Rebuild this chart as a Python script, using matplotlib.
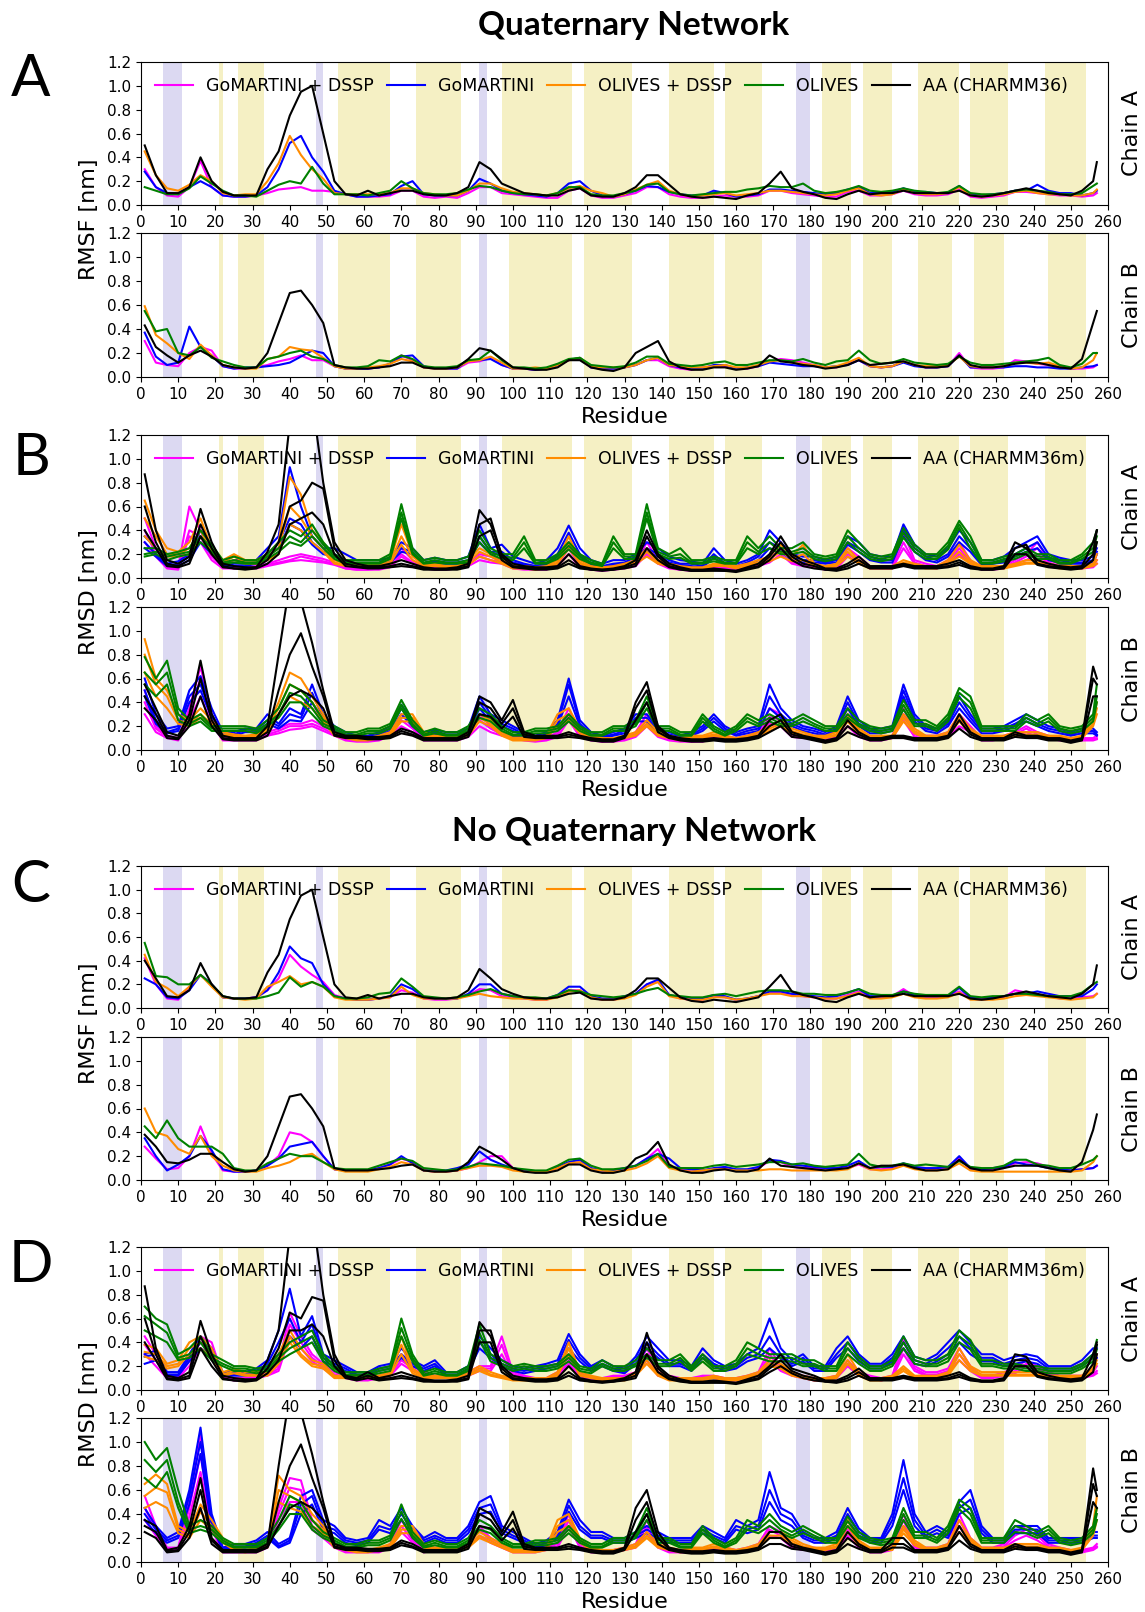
import numpy as np
import matplotlib.pyplot as plt

# residues: every third residue plus the last one
residues = list(range(1, 257, 3)) + [257]

labels = ['GoMARTINI + DSSP', 'GoMARTINI', 'OLIVES + DSSP', 'OLIVES']
colors = ['magenta', 'blue', 'darkorange', 'green', 'black']

# shaded secondary structure ranges (residue numbers)
purple_spans = [(6, 11), (47, 49), (91, 93), (176, 180)]
yellow_spans_A = [(21, 22), (26, 33), (53, 67), (74, 86), (97, 116), (119, 132), (142, 154),
                  (157, 167), (183, 191), (194, 202), (209, 220), (223, 233), (243, 254)]
yellow_spans_B = [(21, 22), (26, 33), (53, 67), (74, 86), (99, 116), (119, 132), (142, 154),
                  (157, 167), (183, 191), (194, 202), (209, 218), (224, 232), (244, 254)]

# ---- all values below in 0.01 nm ----
# Quaternary network, RMSF, chain A
q_rmsf_A_gd = [30,15,8,7,15,37,15,8,7,7,8,10,13,14,15,12,12,11,9,7,7,7,8,12,12,7,6,7,6,
               10,15,15,10,9,8,7,6,6,12,14,8,6,6,8,10,15,15,9,7,6,6,7,8,7,7,8,12,12,
               10,9,8,7,7,11,12,8,8,9,12,9,8,8,9,13,7,6,7,8,11,11,10,9,8,8,7,8,10]
q_rmsf_A_go = [28,15,10,9,15,20,15,8,7,7,8,15,30,52,58,40,28,12,9,7,7,8,9,16,20,9,8,8,8,
               12,22,18,12,10,9,8,7,10,18,20,12,8,7,9,12,16,15,11,9,8,8,12,10,7,8,9,13,13,
               12,11,10,9,10,13,15,10,10,11,14,11,11,10,10,16,9,8,9,10,12,12,17,12,10,10,8,10,12]
q_rmsf_A_od = [45,25,14,12,17,25,20,10,8,9,9,20,35,58,42,30,22,10,9,9,9,9,10,14,14,10,9,8,8,
               12,18,18,14,11,10,9,8,10,14,16,12,10,7,9,13,17,20,12,9,7,8,9,10,8,9,10,12,12,
               11,10,9,8,9,12,14,9,8,9,13,10,9,9,10,15,8,7,8,9,11,12,10,9,9,8,8,10,13]
q_rmsf_A_ol = [15,12,9,9,14,24,18,12,8,8,7,12,17,20,18,32,18,9,9,9,8,10,12,20,14,10,9,9,10,
               13,16,15,12,10,9,9,8,10,15,15,9,8,8,10,12,17,18,11,9,8,9,10,11,11,13,14,16,15,
               15,18,12,10,11,13,16,12,11,12,14,12,11,10,11,16,10,9,9,10,12,13,12,11,9,9,10,16,18]
q_rmsf_A_aa = [50,25,10,10,15,40,20,11,8,8,8,30,45,75,95,100,60,20,9,8,12,8,10,12,12,9,8,8,10,
               15,36,30,18,14,10,9,8,8,12,14,8,7,7,10,15,25,25,17,9,7,6,7,6,5,8,10,18,28,
               14,11,9,6,5,9,12,9,10,10,12,10,10,10,10,12,8,7,8,10,12,14,12,10,9,8,12,20,36]

# Quaternary network, RMSF, chain B
q_rmsf_B_gd = [30,12,10,9,20,25,22,9,7,7,8,10,13,15,18,14,14,9,7,7,7,8,11,18,14,8,7,7,7,
               12,13,16,10,7,7,6,7,10,14,15,8,7,7,8,10,14,14,9,7,6,8,9,9,7,7,9,13,15,
               14,12,10,8,8,11,14,9,8,9,13,10,8,8,9,20,8,7,7,8,14,13,11,10,8,7,7,8,10]
q_rmsf_B_go = [37,17,10,12,42,25,18,9,7,8,8,9,10,12,17,22,20,9,7,7,7,8,11,17,18,9,7,7,7,
               14,14,15,10,7,7,6,7,10,14,16,8,7,7,8,10,14,16,10,8,7,7,10,10,7,8,9,12,11,
               10,9,9,8,9,10,14,9,8,9,12,9,8,8,9,18,8,8,8,8,9,9,8,8,7,7,8,9,10]
q_rmsf_B_od = [59,35,28,20,15,27,18,10,8,7,7,15,17,25,23,22,16,9,7,7,8,9,11,15,13,8,7,7,8,
               13,14,17,12,7,7,8,7,10,14,16,9,8,8,8,10,14,16,10,9,8,8,9,10,8,8,10,13,14,
               12,11,10,8,9,12,16,9,8,9,13,10,9,9,10,17,9,8,8,9,12,12,11,12,9,7,8,14,20]
q_rmsf_B_ol = [55,38,40,20,18,25,16,13,10,8,8,15,17,20,22,17,15,10,8,8,9,14,13,18,15,9,8,8,9,
               14,15,22,14,8,8,7,8,11,15,16,10,9,8,9,12,17,17,11,10,9,10,12,13,10,10,12,14,14,
               13,15,12,10,13,14,22,14,11,12,15,12,11,10,11,17,12,10,10,11,12,13,14,16,10,8,11,20,20]
q_rmsf_B_aa = [43,25,18,12,18,22,17,10,8,7,8,20,45,70,72,60,45,10,8,7,7,8,9,12,12,8,7,7,8,
               15,24,22,15,8,7,6,6,8,14,14,8,6,5,8,20,25,30,13,8,6,6,8,8,6,7,9,18,13,
               12,10,9,7,8,10,14,10,11,12,13,10,8,8,9,18,10,8,8,9,11,12,12,10,8,7,15,45,55]

# Quaternary network, RMSD (three replicas each), chain A
q_rmsd_A_gd = [[50,25,10,9,60,40,20,10,10,9,10,12,15,18,20,18,16,13,9,8,8,9,12,25,15,10,9,9,10,
                13,20,18,15,10,9,9,9,12,30,12,8,8,9,10,12,30,15,10,8,8,8,10,10,8,10,12,18,30,
                15,12,12,9,10,25,18,10,10,10,38,15,12,10,15,30,15,9,9,10,15,20,30,15,12,10,10,12,20],
               [40,20,9,8,40,35,18,9,9,8,9,11,13,15,18,16,14,12,8,7,7,8,10,20,13,9,8,8,9,
                12,18,15,13,9,8,8,8,11,25,10,7,7,8,9,11,25,13,9,7,7,7,9,9,7,9,11,15,25,
                13,11,10,8,9,20,15,9,9,9,30,13,10,9,13,25,13,8,8,9,13,18,25,13,10,9,9,10,15],
               [30,18,8,7,35,30,15,8,8,8,8,10,12,14,15,14,13,11,8,7,7,7,9,18,12,8,7,7,8,
                10,15,13,12,8,7,7,7,10,20,9,7,6,7,8,10,20,12,8,7,6,6,8,8,6,8,10,13,20,
                12,10,9,7,8,18,13,8,8,8,25,12,9,8,12,20,12,7,7,8,12,15,20,12,9,8,8,9,12]]
q_rmsd_A_go = [[35,25,12,14,20,40,25,12,15,15,15,25,35,93,60,35,25,25,20,15,15,15,17,30,25,15,17,15,15,
                18,45,25,28,18,15,12,15,25,44,25,15,12,15,15,20,30,25,18,15,14,12,25,15,12,15,20,40,30,
                20,18,18,15,18,35,30,20,18,18,45,28,20,18,25,40,30,15,15,18,25,30,35,20,17,15,15,18,25],
               [30,20,10,12,18,35,22,10,12,12,13,20,30,50,45,30,22,20,15,12,12,12,15,25,22,12,14,13,13,
                15,35,22,22,15,12,10,12,20,38,20,12,10,12,13,18,25,20,15,12,12,10,20,12,10,13,18,30,25,
                18,15,15,13,15,30,25,18,15,15,40,25,18,15,20,35,25,12,13,15,20,25,30,17,15,13,13,15,22],
               [25,18,10,10,15,30,20,10,10,10,12,18,25,45,40,28,20,18,14,11,11,11,13,22,20,11,12,12,12,
                13,30,20,20,13,11,10,11,18,30,18,11,9,11,12,15,22,18,13,11,10,9,17,11,9,11,15,25,22,
                15,13,13,12,13,28,22,15,13,13,35,22,15,13,18,30,22,11,12,13,18,22,25,15,13,12,12,13,20]]
q_rmsd_A_od = [[65,40,25,22,30,50,25,15,20,15,15,20,30,85,70,40,30,15,12,12,12,12,15,45,20,12,12,10,10,
                15,25,20,15,10,10,9,10,15,35,15,10,9,10,12,15,25,15,12,10,9,9,12,12,10,12,15,18,28,
                18,28,12,10,12,25,15,10,10,10,15,12,10,10,15,28,15,10,10,10,12,15,15,12,10,10,10,12,20],
               [50,35,20,20,25,40,22,13,18,13,13,18,25,60,50,35,25,13,11,11,11,11,13,35,18,11,11,9,9,
                13,22,18,13,9,9,8,9,13,30,13,9,8,9,11,13,22,13,11,9,8,8,11,11,9,11,13,16,22,
                16,20,11,9,11,22,13,9,9,9,13,11,9,9,13,22,13,9,9,9,11,13,13,11,9,9,9,11,15],
               [35,25,18,18,20,35,20,12,15,12,12,15,20,45,40,30,22,12,10,10,10,10,12,28,15,10,10,8,8,
                11,18,15,12,8,8,7,8,12,25,12,8,7,8,10,12,18,12,10,8,7,7,10,10,8,10,12,14,18,
                14,15,10,8,10,18,12,8,8,8,12,10,8,8,12,18,12,8,8,8,10,12,12,10,8,8,8,10,12]]
q_rmsd_A_ol = [[25,25,20,22,25,40,28,15,18,15,15,20,30,40,35,45,30,20,15,15,15,15,20,62,25,15,17,15,15,
                18,40,25,20,20,35,15,15,20,30,20,15,12,35,20,20,62,25,20,25,15,15,18,15,15,35,25,35,25,
                25,30,20,18,20,40,30,20,18,20,42,28,20,20,30,48,35,15,15,18,20,25,20,20,15,15,20,30,40],
               [20,22,18,20,22,35,25,13,15,13,13,18,25,35,30,40,28,18,13,13,13,13,18,55,22,13,15,13,13,
                15,35,22,18,17,30,13,13,18,27,18,13,11,30,18,18,55,22,18,20,13,13,16,13,13,30,22,30,22,
                22,25,18,16,18,35,25,18,16,18,38,25,18,18,27,45,30,13,13,16,18,22,18,18,13,13,18,25,35],
               [18,20,15,18,20,30,22,12,13,12,12,16,22,30,27,35,25,16,12,12,12,12,16,50,20,12,13,12,12,
                13,30,20,16,15,25,12,12,16,24,16,12,10,25,16,16,50,20,16,17,12,12,14,12,12,25,20,25,20,
                20,22,16,14,16,30,22,16,14,16,34,22,16,16,24,42,25,12,12,14,16,20,16,16,12,12,16,22,30]]
q_rmsd_A_aa = [[87,40,15,12,18,58,30,12,10,9,9,22,45,130,150,150,80,30,15,12,10,10,12,15,12,9,8,8,9,
                12,57,45,20,12,10,9,9,10,20,10,8,7,8,10,15,40,20,12,9,7,7,8,7,6,9,12,20,35,
                20,15,12,8,8,12,18,10,10,10,12,10,10,10,12,15,10,8,8,10,30,25,15,12,10,9,10,30,40],
               [60,30,12,10,15,45,25,10,8,8,9,15,30,60,65,80,75,25,12,10,9,9,10,12,10,8,7,7,8,
                10,45,50,18,10,9,8,8,9,15,9,7,7,7,9,12,35,18,10,8,6,6,7,6,6,8,10,18,30,
                18,12,10,7,7,10,15,9,9,9,11,9,9,9,10,13,9,7,7,9,25,28,12,10,9,8,9,20,40],
               [40,25,10,9,12,35,20,9,8,7,8,12,20,45,50,55,45,20,10,9,8,8,9,10,9,7,7,7,7,
                9,35,40,15,9,8,7,7,8,12,8,7,6,7,8,10,25,15,9,7,6,6,6,6,5,7,9,15,25,
                15,10,8,7,6,8,12,8,8,8,10,8,8,8,9,11,8,7,7,8,20,20,11,9,8,7,8,15,30]]

# Quaternary network, RMSD, chain B
q_rmsd_B_gd = [[50,20,12,10,35,70,30,10,10,10,10,15,18,22,22,25,20,15,10,9,9,10,15,30,20,10,10,10,10,
                15,30,20,15,12,10,9,10,15,35,15,10,8,9,10,15,30,15,10,9,8,9,12,12,10,12,15,35,30,
                15,12,12,10,12,30,15,10,10,12,35,15,12,12,15,30,20,10,10,12,15,20,15,12,10,10,10,10,12],
               [40,18,11,9,30,60,25,9,9,9,9,13,16,20,20,22,18,13,9,8,8,9,13,25,18,9,9,9,9,
                13,25,18,13,11,9,8,9,13,30,13,9,7,8,9,13,25,13,9,8,7,8,11,11,9,11,13,28,25,
                13,11,11,9,11,25,13,9,9,11,30,13,11,11,13,25,18,9,9,11,13,18,13,11,9,9,9,9,10],
               [30,15,10,8,25,45,22,8,8,8,8,12,14,17,18,20,16,12,8,7,7,8,12,20,15,8,8,8,8,
                11,20,15,12,10,8,7,8,11,25,11,8,7,7,8,11,20,11,8,7,7,7,10,10,8,10,11,22,20,
                11,10,10,8,10,20,11,8,8,10,25,11,10,10,11,20,15,8,8,10,11,15,11,10,8,8,8,8,9]]
q_rmsd_B_go = [[60,30,18,20,50,62,35,15,15,18,18,30,22,35,30,55,30,20,15,12,12,15,20,38,25,15,17,15,15,
                18,45,30,25,20,15,12,15,25,60,25,15,12,15,18,30,30,18,15,12,15,20,30,20,15,18,20,55,35,
                25,20,18,15,20,45,25,18,18,20,55,30,20,18,25,45,30,18,18,20,25,30,25,20,18,15,18,18,15],
               [50,25,15,18,45,55,30,13,13,17,17,25,20,30,27,48,27,18,13,11,11,13,18,35,22,13,15,13,13,
                16,40,27,22,18,13,11,13,22,55,22,13,11,13,16,27,27,16,13,11,13,18,27,18,13,16,18,45,30,
                22,18,16,13,18,40,22,16,16,18,50,27,18,16,22,40,27,16,16,18,22,27,22,18,16,13,16,16,13],
               [45,22,14,16,40,50,27,12,12,15,15,22,18,25,24,40,24,16,12,10,10,12,16,30,20,12,13,12,12,
                14,35,24,20,16,12,10,12,20,45,20,12,10,12,14,24,24,14,12,10,12,16,24,16,12,14,16,35,27,
                20,16,14,12,16,35,20,14,14,16,45,24,16,14,20,35,24,14,14,16,20,24,20,16,14,12,14,14,12]]
q_rmsd_B_od = [[93,60,50,30,25,35,25,15,13,12,13,20,40,65,60,45,30,15,12,10,10,12,15,30,30,15,12,12,12,
                15,30,25,15,10,10,10,12,30,35,18,12,10,10,12,15,25,15,12,10,12,12,15,12,10,12,15,20,25,
                18,15,12,12,15,30,18,12,12,12,30,18,12,12,15,30,18,12,12,12,15,15,15,12,12,10,12,25,40],
               [80,55,45,25,22,30,22,13,12,11,12,18,35,55,50,40,27,13,11,9,9,11,13,27,27,13,11,11,11,
                13,27,22,13,9,9,9,11,25,30,16,11,9,9,11,13,22,13,11,9,11,11,13,11,9,11,13,18,22,
                16,13,11,11,13,27,16,11,11,11,27,16,11,11,13,27,16,11,11,11,13,13,13,11,11,9,11,22,35],
               [65,45,35,22,20,27,20,12,11,10,11,16,30,45,40,35,24,12,10,8,8,10,12,24,24,12,10,10,10,
                12,24,20,12,8,8,8,10,20,25,14,10,8,8,10,12,20,12,10,8,10,10,12,10,8,10,12,16,20,
                14,12,10,10,12,24,14,10,10,10,24,14,10,10,12,24,14,10,10,10,12,12,12,10,10,8,10,20,30]]
q_rmsd_B_ol = [[78,60,75,35,25,30,20,20,20,20,18,25,35,55,50,40,25,20,15,15,18,18,22,42,25,15,18,15,15,
                20,35,30,20,15,15,18,18,20,30,20,15,15,20,20,25,45,20,20,15,15,30,20,15,20,30,25,30,25,
                25,30,25,20,20,35,25,20,18,20,42,25,25,20,30,52,45,20,20,20,20,30,25,30,20,18,20,30,55],
               [65,55,65,30,22,27,18,18,18,18,16,22,30,48,45,35,22,18,13,13,16,16,20,38,22,13,16,13,13,
                18,30,27,18,13,13,16,16,18,27,18,13,13,18,18,22,40,18,18,13,13,27,18,13,18,27,22,27,22,
                22,27,22,18,18,30,22,18,16,18,38,22,22,18,27,48,40,18,18,18,18,27,22,27,18,16,18,27,45],
               [55,45,55,25,20,24,16,16,16,16,14,20,27,40,40,30,20,16,12,12,14,14,18,35,20,12,14,12,12,
                16,27,24,16,12,12,14,14,16,24,16,12,12,16,16,20,35,16,16,12,12,24,16,12,16,24,20,24,20,
                20,24,20,16,16,27,20,16,14,16,34,20,20,16,24,44,35,16,16,16,16,24,20,24,16,14,16,24,40]]
q_rmsd_B_aa = [[55,35,15,12,30,75,30,12,10,10,10,20,80,140,125,90,50,15,12,12,11,11,12,18,15,10,10,10,10,
                15,45,40,25,42,15,12,12,12,15,12,10,9,9,12,40,57,20,12,10,9,9,10,9,9,10,12,25,30,
                15,12,10,8,10,25,15,10,10,12,12,10,10,10,12,30,15,10,10,10,15,12,12,10,10,8,10,70,60],
               [45,30,12,10,25,60,25,10,9,9,9,15,50,80,98,70,45,13,11,11,10,10,11,16,13,9,9,9,9,
                13,40,35,22,35,13,11,11,11,13,11,9,8,8,11,35,50,18,11,9,8,8,9,8,8,9,11,20,25,
                13,11,9,7,9,20,13,9,9,11,11,9,9,9,11,25,13,9,9,9,13,11,11,9,9,7,9,60,55],
               [35,25,10,9,20,45,20,9,8,8,8,12,30,45,50,45,35,12,10,10,9,9,10,14,12,8,8,8,8,
                11,30,28,18,28,11,10,10,10,11,10,8,7,7,10,25,40,15,10,8,7,7,8,7,7,8,10,15,20,
                11,10,8,6,8,15,11,8,8,10,10,8,8,8,10,18,11,8,8,8,11,10,10,8,8,6,8,45,45]]

# No quaternary network, RMSF, chain A
n_rmsf_A_gd = [42,20,8,7,18,28,20,9,8,8,9,15,25,45,35,28,22,11,8,7,7,8,9,15,13,8,7,7,8,
               11,16,15,10,9,8,7,7,10,15,15,9,7,7,9,12,20,22,11,8,7,7,10,9,7,8,10,13,13,
               11,10,9,8,8,11,14,9,9,10,16,10,9,9,10,14,8,7,8,9,15,13,11,10,8,8,9,10,12]
n_rmsf_A_go = [25,20,9,8,15,28,20,9,8,8,9,15,30,52,42,38,20,10,8,7,7,8,10,20,16,9,8,8,8,
               12,20,20,12,10,9,8,8,11,18,18,10,8,8,10,12,20,24,11,9,8,8,11,10,7,8,10,14,14,
               12,11,10,9,10,13,16,10,10,10,14,11,10,10,10,17,9,8,9,10,12,12,14,12,10,10,10,16,20]
n_rmsf_A_od = [45,22,17,10,18,28,18,9,8,7,8,18,22,27,20,22,18,9,7,7,7,8,9,18,11,8,8,8,8,
               10,12,10,9,8,8,7,7,9,14,15,9,7,7,8,11,18,22,10,8,7,7,9,9,7,8,10,12,12,
               10,10,9,8,8,10,13,8,8,9,12,9,8,8,9,13,7,7,7,8,10,11,10,9,8,7,8,9,12]
n_rmsf_A_ol = [55,27,26,20,20,28,20,10,8,8,8,10,13,26,18,22,18,10,8,8,9,12,13,25,18,10,9,8,9,
               11,14,16,12,10,9,9,8,11,15,14,11,10,9,10,12,15,17,11,10,9,9,11,12,10,12,14,15,15,
               14,12,12,11,11,13,16,12,11,11,14,12,11,11,11,18,10,9,10,10,12,12,11,10,10,10,13,20,22]
n_rmsf_A_aa = [40,25,10,9,15,38,20,10,8,8,9,30,45,75,95,100,60,20,9,8,11,8,10,12,12,9,8,8,9,
               15,33,25,16,12,9,8,8,9,12,13,8,7,7,9,15,25,25,17,9,6,5,7,6,5,7,9,18,28,
               14,11,9,6,5,9,12,9,10,10,12,10,10,10,10,12,8,7,8,10,12,14,12,10,9,8,12,20,36]

# No quaternary network, RMSF, chain B
n_rmsf_B_gd = [28,18,9,10,20,45,22,8,7,7,8,12,20,40,38,32,20,9,8,8,8,10,13,18,15,8,7,7,8,
               10,15,20,20,10,8,7,7,10,14,15,9,8,7,9,12,18,26,11,9,7,8,9,10,8,8,10,16,15,
               11,10,10,9,9,10,13,9,9,10,13,10,9,9,10,18,9,8,9,10,14,15,14,11,9,8,9,10,12]
n_rmsf_B_go = [35,20,8,13,20,37,25,9,7,7,8,12,18,28,30,32,20,9,8,8,8,10,13,20,14,8,8,8,10,
               13,24,17,13,10,8,7,7,11,15,17,10,8,8,10,12,18,22,18,10,9,8,10,11,9,9,11,17,16,
               13,12,11,10,10,12,16,10,11,11,14,11,10,10,11,20,10,9,10,11,15,13,12,10,9,8,9,10,12]
n_rmsf_B_od = [60,40,37,26,22,37,20,12,8,7,7,10,12,15,20,22,15,9,7,7,7,9,11,15,13,8,7,7,8,
               10,12,12,11,8,7,7,7,10,14,15,9,8,7,8,10,14,20,10,8,7,8,9,9,8,8,8,9,9,
               8,8,8,8,8,9,14,9,8,9,12,9,8,8,9,14,8,7,7,7,7,7,7,7,7,7,8,15,20]
n_rmsf_B_ol = [45,35,50,35,28,28,28,22,10,8,8,14,18,22,20,20,15,10,9,9,9,12,15,18,16,10,9,8,9,
               11,14,13,12,10,9,8,8,12,17,18,12,9,9,10,12,16,22,11,10,10,10,12,13,11,12,13,15,15,
               13,14,12,11,12,13,22,13,11,12,14,12,13,12,11,16,11,10,10,12,17,17,13,12,10,10,13,17,20]
n_rmsf_B_aa = [38,28,15,14,17,22,22,15,9,7,8,20,45,70,72,60,45,10,8,8,8,9,10,12,13,8,7,7,8,
               15,28,23,17,10,7,6,6,8,13,13,8,6,6,8,18,22,32,13,8,6,6,8,9,7,7,9,18,12,
               11,10,9,8,9,10,14,10,12,12,13,10,8,8,9,17,10,8,8,10,12,12,12,10,8,7,15,42,55]

# No quaternary network, RMSD, chain A
n_rmsd_A_gd = [[45,30,12,12,30,45,40,12,10,10,12,15,20,65,45,30,22,15,12,10,10,12,15,30,20,15,12,12,12,
                15,20,20,45,15,12,10,10,15,30,15,10,10,12,12,15,35,15,12,10,10,12,12,10,10,12,15,35,20,
                15,12,10,10,12,25,15,12,10,12,42,20,15,15,18,35,20,12,12,15,18,25,20,15,12,12,12,15,20],
               [38,25,11,11,25,40,35,11,9,9,11,13,18,55,40,27,20,13,11,9,9,11,13,25,18,13,11,11,11,
                13,18,18,38,13,11,9,9,13,25,13,9,9,11,11,13,30,13,11,9,9,11,11,9,9,11,13,30,18,
                13,11,9,9,11,22,13,11,9,11,35,18,13,13,16,30,18,11,11,13,16,22,18,13,11,11,11,13,16],
               [30,20,10,10,20,35,30,10,8,8,10,12,16,45,35,24,18,12,10,8,8,10,12,22,16,12,10,10,10,
                12,16,16,30,12,10,8,8,12,22,12,8,8,10,10,12,25,12,10,8,8,10,10,8,8,10,12,25,16,
                12,10,8,8,10,20,12,10,8,10,30,16,12,12,14,25,16,10,10,12,14,20,16,12,10,10,10,12,14]]
n_rmsd_A_go = [[30,33,15,15,30,45,35,15,15,15,18,25,50,85,45,62,30,25,20,15,15,20,22,35,25,20,25,15,15,
                20,45,35,25,20,18,20,22,25,47,30,20,25,20,18,28,45,35,25,25,20,35,25,20,22,30,35,60,35,
                25,30,20,20,35,45,30,22,22,30,45,28,25,30,40,50,40,30,30,25,28,30,28,20,20,20,25,35,35],
               [28,30,13,13,27,40,30,13,13,13,16,22,40,60,40,55,27,22,18,13,13,18,20,30,22,18,22,13,13,
                18,40,30,22,18,16,18,20,22,42,27,18,22,18,16,25,40,30,22,22,18,30,22,18,20,27,30,45,30,
                22,27,18,18,30,40,27,20,20,27,40,25,22,27,35,45,35,27,27,22,25,27,25,18,18,18,22,30,30],
               [22,25,12,12,24,35,27,12,12,12,14,20,30,45,35,45,24,20,16,12,12,16,18,27,20,16,20,12,12,
                16,35,27,20,16,14,16,18,20,35,24,16,20,16,14,22,35,27,20,20,16,27,20,16,18,24,27,35,27,
                20,24,16,16,27,35,24,18,18,24,35,22,20,24,30,40,30,24,24,20,22,24,22,16,16,16,20,27,27]]
n_rmsd_A_od = [[38,35,22,25,40,45,35,15,18,15,15,15,30,50,35,25,22,12,12,12,12,12,15,45,18,12,12,12,12,
                15,20,15,12,10,10,10,10,15,40,15,12,10,10,10,15,30,15,10,10,10,10,12,10,10,12,15,25,22,
                15,12,10,10,12,30,15,10,10,12,20,12,12,12,15,35,20,15,15,15,15,15,15,12,12,12,12,20,30],
               [32,30,20,22,35,40,30,13,16,13,13,13,25,45,30,22,20,11,11,11,11,11,13,38,16,11,11,11,11,
                13,18,13,11,9,9,9,9,13,35,13,11,9,9,9,13,25,13,9,9,9,9,11,9,9,11,13,22,20,
                13,11,9,9,11,25,13,9,9,11,18,11,11,11,13,30,18,13,13,13,13,13,13,11,11,11,11,18,25],
               [28,25,18,20,30,35,27,12,14,12,12,12,22,40,28,20,18,10,10,10,10,10,12,30,14,10,10,10,10,
                12,16,12,10,8,8,8,8,12,30,12,10,8,8,8,12,22,12,8,8,8,8,10,8,8,10,12,20,18,
                12,10,8,8,10,22,12,8,8,10,16,10,10,10,12,25,16,12,12,12,12,12,12,10,10,10,10,16,22]]
n_rmsd_A_ol = [[70,60,55,30,35,45,30,25,20,20,18,20,30,40,45,50,30,20,15,15,15,18,20,60,30,15,18,15,15,
                20,55,30,25,20,22,20,20,22,30,20,18,25,20,20,25,35,25,25,30,20,30,20,20,25,40,35,30,30,
                30,25,25,20,20,40,28,20,20,25,45,28,25,25,30,50,42,25,25,22,22,20,20,18,18,18,22,30,42],
               [62,55,48,27,30,40,27,22,18,18,16,18,27,35,40,45,27,18,13,13,13,16,18,52,27,13,16,13,13,
                18,48,27,22,18,20,18,18,20,27,18,16,22,18,18,22,30,22,22,27,18,27,18,18,22,35,30,27,27,
                27,22,22,18,18,35,25,18,18,22,40,25,22,22,27,45,38,22,22,20,20,18,18,16,16,16,20,27,38],
               [50,45,40,25,27,35,25,20,16,16,14,16,24,30,35,40,24,16,12,12,12,14,16,45,24,12,14,12,12,
                16,42,24,20,16,18,16,16,18,24,16,14,20,16,16,20,27,20,20,24,16,24,16,16,20,30,27,24,24,
                24,20,20,16,16,30,22,16,16,20,35,22,20,20,24,40,34,20,20,18,18,16,16,14,14,14,18,24,34]]
n_rmsd_A_aa = [[87,35,12,10,15,58,30,12,10,9,9,25,50,130,150,150,80,30,12,10,15,10,12,15,12,9,8,8,9,
                12,57,45,20,12,10,9,9,10,20,10,8,7,8,10,15,48,20,12,9,7,7,8,7,6,9,12,20,30,
                18,15,12,8,8,12,18,10,10,10,12,10,10,10,12,15,10,8,8,10,30,28,15,12,10,9,10,30,40],
               [60,30,10,9,12,45,25,10,8,8,9,18,35,65,60,78,75,25,11,9,12,9,10,12,10,8,7,7,8,
                10,50,50,18,10,9,8,8,9,15,9,7,7,7,9,12,40,18,10,8,6,6,7,6,6,8,10,18,25,
                16,12,10,7,7,10,15,9,9,9,11,9,9,9,10,13,9,7,7,9,25,25,12,10,9,8,9,22,38],
               [40,25,9,8,10,35,20,9,8,7,8,14,25,50,50,55,45,20,10,8,10,8,9,10,9,7,7,7,7,
                9,40,40,15,9,8,7,7,8,12,8,7,6,7,8,10,30,15,9,7,6,6,6,6,5,7,9,15,20,
                14,10,8,7,6,8,12,8,8,8,10,8,8,8,9,11,8,7,7,8,20,20,11,9,8,7,8,15,30]]

# No quaternary network, RMSD, chain B
n_rmsd_B_gd = [[55,30,12,12,50,105,35,10,10,10,10,15,45,70,68,35,25,15,10,10,10,10,15,35,20,10,12,12,12,
                15,30,20,15,10,10,10,12,15,40,15,10,10,10,12,15,35,15,10,10,10,10,12,12,10,12,15,30,25,
                15,12,12,10,12,30,15,10,10,12,40,15,12,12,15,40,20,12,12,15,25,30,25,15,12,10,10,12,15],
               [45,27,11,11,45,90,30,9,9,9,9,13,40,62,60,30,22,13,9,9,9,9,13,30,18,9,11,11,11,
                13,27,18,13,9,9,9,11,13,35,13,9,9,9,11,13,30,13,9,9,9,9,11,11,9,11,13,27,22,
                13,11,11,9,11,27,13,9,9,11,35,13,11,11,13,35,18,11,11,13,22,27,22,13,11,9,9,11,13],
               [35,22,10,10,38,75,27,8,8,8,8,12,35,50,50,27,20,12,8,8,8,8,12,25,16,8,10,10,10,
                12,22,16,12,8,8,8,10,12,30,12,8,8,8,10,12,25,12,8,8,8,8,10,10,8,10,12,22,20,
                12,10,10,8,10,22,12,8,8,10,30,12,10,10,12,30,16,10,10,12,18,22,18,12,10,8,8,10,12]]
n_rmsd_B_go = [[45,30,20,25,60,112,40,12,15,15,18,25,15,20,55,60,35,30,20,18,20,35,30,45,30,20,25,20,20,
                30,50,55,30,25,20,15,18,25,52,35,25,25,20,20,25,30,25,20,20,20,30,25,20,35,30,35,75,45,
                40,25,20,20,25,45,28,20,20,40,85,40,25,30,25,50,60,30,20,20,30,30,30,20,20,20,20,25,25],
               [40,27,18,22,55,100,35,11,13,13,16,22,13,18,48,55,30,27,18,16,18,30,27,40,27,18,22,18,18,
                27,45,48,27,22,18,13,16,22,47,30,22,22,18,18,22,27,22,18,18,18,27,22,18,30,27,30,60,40,
                35,22,18,18,22,40,25,18,18,35,70,35,22,27,22,45,52,27,18,18,27,27,27,18,18,18,18,22,22],
               [35,24,16,20,48,90,30,10,12,12,14,20,12,16,40,48,27,24,16,14,16,27,24,35,24,16,20,16,16,
                24,40,42,24,20,16,12,14,20,42,27,20,20,16,16,20,24,20,16,16,16,24,20,16,27,24,27,50,35,
                30,20,16,16,20,35,22,16,16,30,60,30,20,24,20,40,45,24,16,16,24,24,24,16,16,16,16,20,20]]
n_rmsd_B_od = [[65,73,65,30,25,48,35,20,12,10,12,15,72,60,55,40,30,15,12,10,10,12,15,30,30,15,12,12,12,
                15,25,20,15,10,10,10,12,35,40,20,12,10,10,12,15,25,15,12,10,12,12,15,12,10,12,15,25,25,
                20,15,12,12,15,35,18,12,12,12,30,18,12,12,15,35,20,12,12,12,15,15,15,12,12,10,12,30,55],
               [55,62,58,27,22,42,30,18,11,9,11,13,60,55,50,35,27,13,11,9,9,11,13,27,27,13,11,11,11,
                13,22,18,13,9,9,9,11,30,35,18,11,9,9,11,13,22,13,11,9,11,11,13,11,9,11,13,22,22,
                18,13,11,11,13,30,16,11,11,11,27,16,11,11,13,30,18,11,11,11,13,13,13,11,11,9,11,27,45],
               [45,50,45,24,20,35,27,16,10,8,10,12,50,45,42,30,24,12,10,8,8,10,12,24,24,12,10,10,10,
                12,20,16,12,8,8,8,10,25,30,16,10,8,8,10,12,20,12,10,8,10,10,12,10,8,10,12,20,20,
                16,12,10,10,12,25,14,10,10,10,24,14,10,10,12,25,16,10,10,10,12,12,12,10,10,8,10,22,35]]
n_rmsd_B_ol = [[100,85,95,60,30,35,30,20,15,15,15,20,35,55,50,35,25,20,15,15,18,18,22,48,25,15,18,15,15,
                20,35,30,20,15,15,18,18,20,30,20,15,15,20,20,25,45,20,20,15,15,30,20,15,20,35,30,40,30,
                25,30,25,20,20,38,25,20,18,20,45,25,25,20,30,52,45,20,20,20,35,30,25,30,20,18,20,30,45],
               [85,75,85,50,27,30,27,18,13,13,13,18,30,48,45,30,22,18,13,13,16,16,20,42,22,13,16,13,13,
                18,30,27,18,13,13,16,16,18,27,18,13,13,18,18,22,40,18,18,13,13,27,18,13,18,30,27,35,27,
                22,27,22,18,18,34,22,18,16,18,40,22,22,18,27,48,40,18,18,18,30,27,22,27,18,16,18,27,40],
               [70,62,75,45,24,27,24,16,12,12,12,16,27,40,40,27,20,16,12,12,14,14,18,36,20,12,14,12,12,
                16,27,24,16,12,12,14,14,16,24,16,12,12,16,16,20,35,16,16,12,12,24,16,12,16,27,24,30,24,
                20,24,20,16,16,30,20,16,14,16,35,20,20,16,24,44,35,16,16,16,25,24,20,24,16,14,16,24,35]]
n_rmsd_B_aa = [[35,30,10,12,30,70,20,10,10,10,10,15,80,140,125,90,50,15,12,12,11,11,12,18,15,10,10,10,10,
                15,45,40,25,42,15,12,12,12,15,12,10,9,9,12,45,60,25,12,10,9,9,10,9,9,10,12,25,25,
                15,12,10,8,10,25,15,10,10,20,20,10,10,10,12,30,15,10,10,10,15,12,12,10,10,8,10,78,60],
               [30,25,9,10,25,60,18,9,9,9,9,13,50,80,98,70,45,13,11,11,10,10,11,16,13,9,9,9,9,
                13,40,35,22,35,13,11,11,11,13,11,9,8,8,11,35,50,20,11,9,8,8,9,8,8,9,11,20,20,
                13,11,9,7,9,20,13,9,9,15,15,9,9,9,11,25,13,9,9,9,13,11,11,9,9,7,9,65,55],
               [25,20,8,9,20,45,15,8,8,8,8,12,30,45,50,45,35,12,10,10,9,9,10,14,12,8,8,8,8,
                11,30,28,18,28,11,10,10,10,11,10,8,7,7,10,25,40,15,10,8,7,7,8,7,7,8,10,15,15,
                11,10,8,6,8,15,11,8,8,12,12,8,8,8,10,18,11,8,8,8,11,10,10,8,8,6,8,50,45]]

fig = plt.figure(figsize=(11.45, 16.12), dpi=100)
W, H = 1145.0, 1612.0
x0, x1 = 141 / W, 1108 / W


def add_ax(top, bottom):
    return fig.add_axes([x0, 1 - bottom / H, x1 - x0, (bottom - top) / H])


def draw_chain(ax, series, yellow, rmsd):
    for lo, hi in yellow:
        ax.axvspan(lo, hi, color='#f5f0c4', lw=0, zorder=0)
    for lo, hi in purple_spans:
        ax.axvspan(lo, hi, color='#dcd9f2', lw=0, zorder=0)
    handles = []
    for vals, col in zip(series, colors):
        reps = vals if rmsd else [vals]
        for rep in reps:
            line, = ax.plot(residues, np.array(rep) / 100, color=col, lw=1.5)
        handles.append(line)
    ax.set_xlim(0, 260)
    ax.set_ylim(0, 1.2)
    ax.set_xticks(range(0, 261, 10))
    ax.set_yticks(np.arange(0, 1.21, 0.2))
    ax.tick_params(labelsize=11)
    return handles


def panel(rows, series_A, series_B, rmsd, ylabel, aa_label, letter, letter_y):
    axA = add_ax(*rows[0])
    axB = add_ax(*rows[1])
    h = draw_chain(axA, series_A, yellow_spans_A, rmsd)
    draw_chain(axB, series_B, yellow_spans_B, rmsd)
    axA.legend(h, labels + [aa_label], loc='center left', bbox_to_anchor=(0.014, 0.832),
               ncol=5, frameon=False, fontsize=12.5, borderpad=0, borderaxespad=0,
               handlelength=2.2, handletextpad=0.75, columnspacing=0.75)
    axB.set_xlabel('Residue', fontsize=16)
    for ax, name in ((axA, 'Chain A'), (axB, 'Chain B')):
        ax.text(1.014, 0.5, name, transform=ax.transAxes, rotation=90,
                ha='left', va='center', fontsize=16)
    mid = (rows[0][0] + rows[1][1]) / 2
    fig.text(89 / W, 1 - mid / H, ylabel, rotation=90, ha='center', va='center', fontsize=16)
    fig.text(31 / W, 1 - letter_y / H, letter, ha='center', va='center',
             fontsize=42, family='Lato')


panel([(62, 205), (233, 377)],
      [q_rmsf_A_gd, q_rmsf_A_go, q_rmsf_A_od, q_rmsf_A_ol, q_rmsf_A_aa],
      [q_rmsf_B_gd, q_rmsf_B_go, q_rmsf_B_od, q_rmsf_B_ol, q_rmsf_B_aa],
      False, 'RMSF [nm]', 'AA (CHARMM36)', 'A', 80)
panel([(435, 578), (607, 750)],
      [q_rmsd_A_gd, q_rmsd_A_go, q_rmsd_A_od, q_rmsd_A_ol, q_rmsd_A_aa],
      [q_rmsd_B_gd, q_rmsd_B_go, q_rmsd_B_od, q_rmsd_B_ol, q_rmsd_B_aa],
      True, 'RMSD [nm]', 'AA (CHARMM36m)', 'B', 458)
panel([(866, 1008), (1037, 1180)],
      [n_rmsf_A_gd, n_rmsf_A_go, n_rmsf_A_od, n_rmsf_A_ol, n_rmsf_A_aa],
      [n_rmsf_B_gd, n_rmsf_B_go, n_rmsf_B_od, n_rmsf_B_ol, n_rmsf_B_aa],
      False, 'RMSF [nm]', 'AA (CHARMM36)', 'C', 886)
panel([(1247, 1390), (1418, 1562)],
      [n_rmsd_A_gd, n_rmsd_A_go, n_rmsd_A_od, n_rmsd_A_ol, n_rmsd_A_aa],
      [n_rmsd_B_gd, n_rmsd_B_go, n_rmsd_B_od, n_rmsd_B_ol, n_rmsd_B_aa],
      True, 'RMSD [nm]', 'AA (CHARMM36m)', 'D', 1265)

fig.text(634 / W, 1 - 26 / H, 'Quaternary Network', ha='center', va='center',
         fontsize=24, fontweight='bold', family='Lato')
fig.text(634 / W, 1 - 832 / H, 'No Quaternary Network', ha='center', va='center',
         fontsize=24, fontweight='bold', family='Lato')

fig.savefig('out.png', dpi=100)
